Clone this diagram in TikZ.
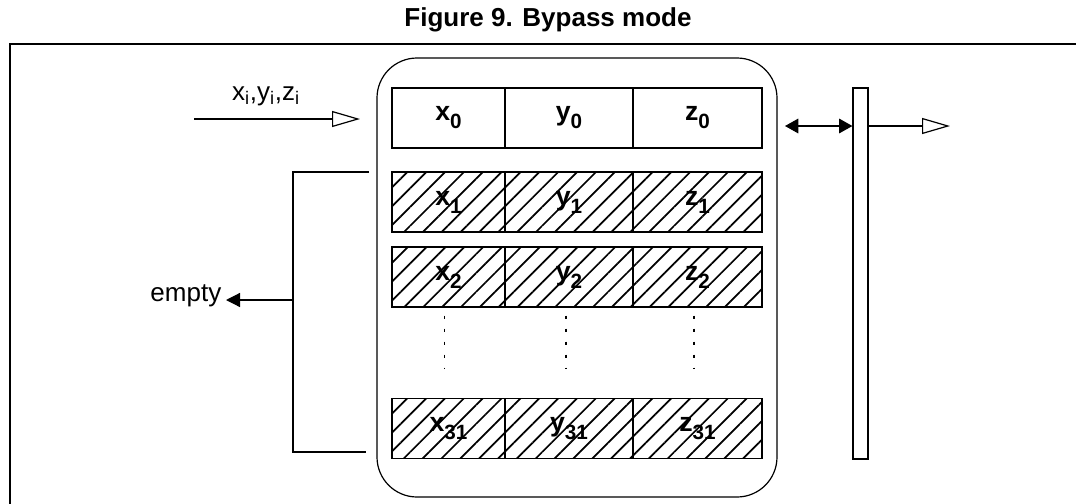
\documentclass[tikz,border=0pt]{standalone}
\usepackage{fontspec}
\setmainfont{Liberation Sans}
\usetikzlibrary{arrows.meta,patterns.meta}

\newcommand{\lowidx}[1]{\raisebox{-0.3em}{\fontsize{15.5}{16}\selectfont #1}}

\begin{document}
\begin{tikzpicture}[%
      x=0.75pt, y=-0.75pt,
      every node/.style={font=\fontsize{19.5}{23}\selectfont},
      line/.style={line width=0.9pt},
      cell/.style={draw, line width=0.9pt, inner sep=0pt, minimum height=45pt,
        font=\fontsize{20}{24}\selectfont\bfseries},
      colx/.style={cell, minimum width=84.75pt},
      coly/.style={cell, minimum width=96pt},
      colz/.style={cell, minimum width=96.75pt},
      hatched/.style={pattern={Lines[angle=45,distance=10pt,line width=1.3pt]}},
      dotline/.style={line width=1.3pt, dash pattern=on 2.5pt off 7.25pt},
      openarrow/.style={line, -{Triangle[open,length=21pt,width=12pt,line width=0.9pt]}},
      fillarrow/.style={line, -{Triangle[length=10.5pt,width=10.5pt]}},
      bothway/.style={line, {Triangle[length=10pt,width=11pt]}-{Triangle[length=10pt,width=11pt]}},
      ]
      \useasboundingbox (0,0) rectangle (1076,504);

      % frame and title
      \draw [line width=1.6pt] (1076,44) -- (10,44) -- (10,504);
      \node [font=\fontsize{19.5}{23}\selectfont\bfseries] (title) at (548,20) {Figure 9. Bypass mode};

      % fifo
      \node [draw, line width=0.9pt, rounded corners=30pt, inner sep=0pt,
        minimum width=300pt, minimum height=329.25pt] (fifo) at (577,277.5) {};

      \node [colx] (x0) at (448.5,118) {x\lowidx{0}};
      \node [coly] (y0) at (569,118) {y\lowidx{0}};
      \node [colz] (z0) at (697.5,118) {z\lowidx{0}};

      \node [colx,hatched] (x1) at (448.5,202) {x\lowidx{1}};
      \node [coly,hatched] (y1) at (569,202) {y\lowidx{1}};
      \node [colz,hatched] (z1) at (697.5,202) {z\lowidx{1}};

      \node [colx,hatched] (x2) at (448.5,277) {x\lowidx{2}};
      \node [coly,hatched] (y2) at (569,277) {y\lowidx{2}};
      \node [colz,hatched] (z2) at (697.5,277) {z\lowidx{2}};

      \node [colx,hatched] (x31) at (448.5,428.5) {x\lowidx{31}};
      \node [coly,hatched] (y31) at (569,428.5) {y\lowidx{31}};
      \node [colz,hatched] (z31) at (697.5,428.5) {z\lowidx{31}};

      \draw [dotline] ([xshift=-3pt,yshift=-6pt]x2.south) -- ([xshift=-3pt,yshift=22.5pt]x31.north);
      \draw [dotline] ([xshift=-2.5pt,yshift=-6pt]y2.south) -- ([xshift=-2.5pt,yshift=22.5pt]y31.north);
      \draw [dotline] ([xshift=-2.5pt,yshift=-6pt]z2.south) -- ([xshift=-2.5pt,yshift=22.5pt]z31.north);

      % input
      \coordinate (src) at (194,119);
      \coordinate (dst) at (360,119);
      \draw [openarrow] (src) -- (dst);
      \node (inlabel) at (266,96) {x\textsubscript{i},y\textsubscript{i},z\textsubscript{i}};

      % bus and output
      \node [draw, line width=0.9pt, inner sep=0pt, minimum width=11.25pt,
        minimum height=278.25pt] (bus) at (860.5,273.5) {};
      \coordinate (tap) at (785,126);
      \coordinate (out) at (950,126);
      \draw [bothway] (tap) -- (tap -| bus.west);
      \draw [openarrow] (tap -| bus.east) -- (out);

      % empty locations
      \coordinate (btop) at (369,172);
      \coordinate (bbot) at (366,452);
      \coordinate (bmid) at (293,300);
      \draw [line] (btop) -- (btop -| bmid) -- (bbot -| bmid) -- (bbot);
      \node [anchor=east] (empty) at (226,296) {empty};
      \draw [fillarrow] (bmid) -- (bmid -| empty.east);
      \end{tikzpicture}
\end{document}
